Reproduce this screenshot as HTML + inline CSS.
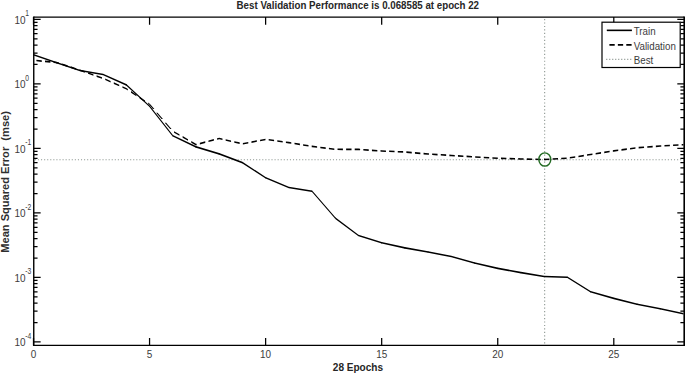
<!DOCTYPE html>
<html><head><meta charset="utf-8"><style>
html,body{margin:0;padding:0;background:#fff;}
svg{display:block;}
text{font-family:"Liberation Sans",sans-serif;white-space:pre;}
</style></head><body>
<svg width="685" height="374" viewBox="0 0 685 374">
<rect width="685" height="374" fill="#fff"/>
<g stroke="#8e9892" stroke-width="1.1" fill="none">
<path d="M544.65 18.94V345.40" stroke-dasharray="1.2 2.2767"/>
<path d="M34.87 159.80H683.40" stroke-dasharray="1.1 1.9726"/>
</g>
<path d="M33.50 54.00L56.71 62.00L56.71 63.60L33.50 55.60ZM56.71 62.00L79.92 69.70L79.92 71.30L56.71 63.60ZM79.92 69.70L103.14 73.70L103.14 75.30L79.92 71.30ZM103.14 73.70L126.35 84.10L126.35 85.70L103.14 75.30ZM126.35 84.10L149.56 105.40L149.56 107.00L126.35 85.70ZM150.27 106.20L173.48 135.80L172.06 135.80L148.85 106.20ZM172.77 135.00L195.98 146.10L195.98 147.70L172.77 136.60ZM195.98 146.10L219.20 153.10L219.20 154.70L195.98 147.70ZM219.20 153.10L242.41 161.80L242.41 163.40L219.20 154.70ZM242.41 161.80L265.62 176.90L265.62 178.50L242.41 163.40ZM265.62 176.90L288.83 186.70L288.83 188.30L265.62 178.50ZM288.83 186.70L312.04 190.40L312.04 192.00L288.83 188.30ZM312.75 191.20L335.96 218.10L334.55 218.10L311.34 191.20ZM335.26 217.30L358.47 234.70L358.47 236.30L335.26 218.90ZM358.47 234.70L381.68 242.00L381.68 243.60L358.47 236.30ZM381.68 242.00L404.89 247.10L404.89 248.70L381.68 243.60ZM404.89 247.10L428.10 251.20L428.10 252.80L404.89 248.70ZM428.10 251.20L451.32 255.70L451.32 257.30L428.10 252.80ZM451.32 255.70L474.53 262.20L474.53 263.80L451.32 257.30ZM474.53 262.20L497.74 267.60L497.74 269.20L474.53 263.80ZM497.74 267.60L520.95 271.80L520.95 273.40L497.74 269.20ZM520.95 271.80L544.16 275.70L544.16 277.30L520.95 273.40ZM544.16 275.70L567.38 276.50L567.38 278.10L544.16 277.30ZM567.38 276.50L590.59 290.90L590.59 292.50L567.38 278.10ZM590.59 290.90L613.80 297.60L613.80 299.20L590.59 292.50ZM613.80 297.60L637.01 303.40L637.01 305.00L613.80 299.20ZM637.01 303.40L660.22 308.00L660.22 309.60L637.01 305.00ZM660.22 308.00L683.44 313.00L683.44 314.60L660.22 309.60Z" fill="#000"/>
<path d="M56.11 62.80a0.6 0.6 0 1 1 1.2 0a0.6 0.6 0 1 1 -1.2 0M79.32 70.50a0.6 0.6 0 1 1 1.2 0a0.6 0.6 0 1 1 -1.2 0M102.54 74.50a0.6 0.6 0 1 1 1.2 0a0.6 0.6 0 1 1 -1.2 0M125.75 84.90a0.6 0.6 0 1 1 1.2 0a0.6 0.6 0 1 1 -1.2 0M148.96 106.20a0.6 0.6 0 1 1 1.2 0a0.6 0.6 0 1 1 -1.2 0M172.17 135.80a0.6 0.6 0 1 1 1.2 0a0.6 0.6 0 1 1 -1.2 0M195.38 146.90a0.6 0.6 0 1 1 1.2 0a0.6 0.6 0 1 1 -1.2 0M218.60 153.90a0.6 0.6 0 1 1 1.2 0a0.6 0.6 0 1 1 -1.2 0M241.81 162.60a0.6 0.6 0 1 1 1.2 0a0.6 0.6 0 1 1 -1.2 0M265.02 177.70a0.6 0.6 0 1 1 1.2 0a0.6 0.6 0 1 1 -1.2 0M288.23 187.50a0.6 0.6 0 1 1 1.2 0a0.6 0.6 0 1 1 -1.2 0M311.44 191.20a0.6 0.6 0 1 1 1.2 0a0.6 0.6 0 1 1 -1.2 0M334.66 218.10a0.6 0.6 0 1 1 1.2 0a0.6 0.6 0 1 1 -1.2 0M357.87 235.50a0.6 0.6 0 1 1 1.2 0a0.6 0.6 0 1 1 -1.2 0M381.08 242.80a0.6 0.6 0 1 1 1.2 0a0.6 0.6 0 1 1 -1.2 0M404.29 247.90a0.6 0.6 0 1 1 1.2 0a0.6 0.6 0 1 1 -1.2 0M427.50 252.00a0.6 0.6 0 1 1 1.2 0a0.6 0.6 0 1 1 -1.2 0M450.72 256.50a0.6 0.6 0 1 1 1.2 0a0.6 0.6 0 1 1 -1.2 0M473.93 263.00a0.6 0.6 0 1 1 1.2 0a0.6 0.6 0 1 1 -1.2 0M497.14 268.40a0.6 0.6 0 1 1 1.2 0a0.6 0.6 0 1 1 -1.2 0M520.35 272.60a0.6 0.6 0 1 1 1.2 0a0.6 0.6 0 1 1 -1.2 0M543.56 276.50a0.6 0.6 0 1 1 1.2 0a0.6 0.6 0 1 1 -1.2 0M566.78 277.30a0.6 0.6 0 1 1 1.2 0a0.6 0.6 0 1 1 -1.2 0M589.99 291.70a0.6 0.6 0 1 1 1.2 0a0.6 0.6 0 1 1 -1.2 0M613.20 298.40a0.6 0.6 0 1 1 1.2 0a0.6 0.6 0 1 1 -1.2 0M636.41 304.20a0.6 0.6 0 1 1 1.2 0a0.6 0.6 0 1 1 -1.2 0M659.62 308.80a0.6 0.6 0 1 1 1.2 0a0.6 0.6 0 1 1 -1.2 0" fill="#000"/>
<path d="M36.38 59.77L41.78 60.28L41.78 61.88L36.38 61.37ZM44.98 60.59L50.38 61.10L50.38 62.70L44.98 62.19ZM53.59 61.40L56.71 61.70L56.71 63.30L53.59 63.00ZM56.71 61.70L58.98 62.45L58.98 64.05L56.71 63.30ZM62.19 63.52L67.59 65.31L67.59 66.91L62.19 65.12ZM70.79 66.37L76.19 68.16L76.19 69.76L70.79 67.97ZM79.40 69.23L79.92 69.40L79.92 71.00L79.40 70.83ZM79.92 69.40L84.80 71.12L84.80 72.72L79.92 71.00ZM88.00 72.25L93.40 74.16L93.40 75.76L88.00 73.85ZM96.60 75.29L102.00 77.20L102.00 78.80L96.60 76.89ZM105.21 78.52L110.61 80.92L110.61 82.52L105.21 80.12ZM113.81 82.34L119.21 84.73L119.21 86.33L113.81 83.94ZM122.42 86.16L126.35 87.90L126.35 89.50L122.42 87.76ZM126.35 87.90L127.82 88.89L127.82 90.49L126.35 89.50ZM131.02 91.04L136.42 94.67L136.42 96.27L131.02 92.64ZM139.62 96.82L145.03 100.45L145.03 102.05L139.62 98.42ZM148.23 102.61L149.56 103.50L149.56 105.10L148.23 104.21ZM150.27 104.30L154.34 109.02L152.92 109.02L148.85 104.30ZM157.54 112.73L162.94 118.99L161.53 118.99L156.13 112.73ZM166.14 122.70L171.54 128.96L170.13 128.96L164.73 122.70ZM174.04 131.13L179.44 134.25L179.44 135.85L174.04 132.73ZM182.64 136.10L188.04 139.22L188.04 140.82L182.64 137.70ZM191.25 141.07L195.98 143.80L195.98 145.40L191.25 142.67ZM195.98 143.80L196.65 143.63L196.65 145.23L195.98 145.40ZM199.85 142.78L205.25 141.36L205.25 142.96L199.85 144.38ZM208.46 140.52L213.86 139.10L213.86 140.70L208.46 142.12ZM217.06 138.26L219.20 137.70L219.20 139.30L217.06 139.86ZM219.20 137.70L222.46 138.45L222.46 140.05L219.20 139.30ZM225.66 139.18L231.06 140.41L231.06 142.01L225.66 140.78ZM234.27 141.14L239.67 142.37L239.67 143.97L234.27 142.74ZM242.87 142.91L248.27 141.89L248.27 143.49L242.87 144.51ZM251.48 141.28L256.88 140.26L256.88 141.86L251.48 142.88ZM260.08 139.65L265.48 138.63L265.48 140.23L260.08 141.25ZM268.69 139.02L274.08 139.77L274.08 141.37L268.69 140.62ZM277.29 140.21L282.69 140.95L282.69 142.55L277.29 141.81ZM285.89 141.39L288.83 141.80L288.83 143.40L285.89 142.99ZM288.83 141.80L291.29 142.20L291.29 143.80L288.83 143.40ZM294.50 142.73L299.90 143.61L299.90 145.21L294.50 144.33ZM303.10 144.14L308.50 145.02L308.50 146.62L303.10 145.74ZM311.70 145.54L312.04 145.60L312.04 147.20L311.70 147.14ZM312.04 145.60L317.10 146.23L317.10 147.83L312.04 147.20ZM320.31 146.63L325.71 147.31L325.71 148.91L320.31 148.23ZM328.91 147.71L334.31 148.38L334.31 149.98L328.91 149.31ZM337.52 148.51L342.92 148.53L342.92 150.13L337.52 150.11ZM346.12 148.55L351.52 148.57L351.52 150.17L346.12 150.15ZM354.72 148.58L358.47 148.60L358.47 150.20L354.72 150.18ZM358.47 148.60L360.12 148.71L360.12 150.31L358.47 150.20ZM363.33 148.94L368.73 149.31L368.73 150.91L363.33 150.54ZM371.93 149.53L377.33 149.90L377.33 151.50L371.93 151.13ZM380.54 150.12L381.68 150.20L381.68 151.80L380.54 151.72ZM381.68 150.20L385.94 150.38L385.94 151.98L381.68 151.80ZM389.14 150.52L394.54 150.75L394.54 152.35L389.14 152.12ZM397.74 150.89L403.14 151.12L403.14 152.72L397.74 152.49ZM406.35 151.33L411.75 151.79L411.75 153.39L406.35 152.93ZM414.95 152.07L420.35 152.53L420.35 154.13L414.95 153.67ZM423.56 152.81L428.10 153.20L428.10 154.80L423.56 154.41ZM428.10 153.20L428.96 153.26L428.96 154.86L428.10 154.80ZM432.16 153.46L437.56 153.81L437.56 155.41L432.16 155.06ZM440.76 154.02L446.16 154.37L446.16 155.97L440.76 155.62ZM449.37 154.57L451.32 154.70L451.32 156.30L449.37 156.17ZM451.32 154.70L454.77 154.91L454.77 156.51L451.32 156.30ZM457.97 155.10L463.37 155.43L463.37 157.03L457.97 156.70ZM466.58 155.62L471.98 155.95L471.98 157.55L466.58 157.22ZM475.18 156.14L480.58 156.47L480.58 158.07L475.18 157.74ZM483.78 156.66L489.18 156.98L489.18 158.58L483.78 158.26ZM492.39 157.18L497.74 157.50L497.74 159.10L492.39 158.78ZM497.74 157.50L497.79 157.50L497.79 159.10L497.74 159.10ZM500.99 157.60L506.39 157.76L506.39 159.36L500.99 159.20ZM509.60 157.86L515.00 158.02L515.00 159.62L509.60 159.46ZM518.20 158.12L520.95 158.20L520.95 159.80L518.20 159.72ZM520.95 158.20L523.60 158.26L523.60 159.86L520.95 159.80ZM526.80 158.33L532.20 158.44L532.20 160.04L526.80 159.93ZM535.41 158.51L540.81 158.63L540.81 160.23L535.41 160.11ZM544.01 158.70L544.16 158.70L544.16 160.30L544.01 160.30ZM544.16 158.70L549.41 158.41L549.41 160.01L544.16 160.30ZM552.62 158.23L558.02 157.92L558.02 159.52L552.62 159.83ZM561.22 157.74L566.62 157.44L566.62 159.04L561.22 159.34ZM569.82 157.01L575.22 156.15L575.22 157.75L569.82 158.61ZM578.43 155.64L583.83 154.78L583.83 156.38L578.43 157.24ZM587.03 154.27L590.59 153.70L590.59 155.30L587.03 155.87ZM590.59 153.70L592.43 153.41L592.43 155.01L590.59 155.30ZM595.64 152.92L601.04 152.08L601.04 153.68L595.64 154.52ZM604.24 151.58L609.64 150.75L609.64 152.35L604.24 153.18ZM612.84 150.25L613.80 150.10L613.80 151.70L612.84 151.85ZM613.80 150.10L618.24 149.51L618.24 151.11L613.80 151.70ZM621.45 149.08L626.85 148.36L626.85 149.96L621.45 150.68ZM630.05 147.93L635.45 147.21L635.45 148.81L630.05 149.53ZM638.66 146.87L644.06 146.45L644.06 148.05L638.66 148.47ZM647.26 146.21L652.66 145.79L652.66 147.39L647.26 147.81ZM655.86 145.54L660.22 145.20L660.22 146.80L655.86 147.14ZM660.22 145.20L661.26 145.14L661.26 146.74L660.22 146.80ZM664.47 144.96L669.87 144.66L669.87 146.26L664.47 146.56ZM673.07 144.48L678.47 144.18L678.47 145.78L673.07 146.08ZM681.68 144.00L683.44 143.90L683.44 145.50L681.68 145.60Z" fill="#000"/>
<ellipse cx="544.8" cy="159.5" rx="5.95" ry="6.65" fill="none" stroke="#236b23" stroke-width="1.4"/>
<path d="M33.50 345.40V338.00M33.50 17.10V24.70M149.56 345.40V338.00M149.56 17.10V24.70M265.62 345.40V338.00M265.62 17.10V24.70M381.68 345.40V338.00M381.68 17.10V24.70M497.74 345.40V338.00M497.74 17.10V24.70M613.80 345.40V338.00M613.80 17.10V24.70M33.75 19.38H40.65M684.20 19.38H677.30M33.75 83.90H40.65M684.20 83.90H677.30M33.75 148.42H40.65M684.20 148.42H677.30M33.75 212.94H40.65M684.20 212.94H677.30M33.75 277.46H40.65M684.20 277.46H677.30M33.75 341.98H40.65M684.20 341.98H677.30M33.75 64.48H37.55M684.20 64.48H680.40M33.75 53.12H37.55M684.20 53.12H680.40M33.75 45.06H37.55M684.20 45.06H680.40M33.75 38.80H37.55M684.20 38.80H680.40M33.75 33.69H37.55M684.20 33.69H680.40M33.75 29.37H37.55M684.20 29.37H680.40M33.75 25.63H37.55M684.20 25.63H680.40M33.75 22.33H37.55M684.20 22.33H680.40M33.75 129.00H37.55M684.20 129.00H680.40M33.75 117.64H37.55M684.20 117.64H680.40M33.75 109.58H37.55M684.20 109.58H680.40M33.75 103.32H37.55M684.20 103.32H680.40M33.75 98.21H37.55M684.20 98.21H680.40M33.75 93.89H37.55M684.20 93.89H680.40M33.75 90.15H37.55M684.20 90.15H680.40M33.75 86.85H37.55M684.20 86.85H680.40M33.75 193.52H37.55M684.20 193.52H680.40M33.75 182.16H37.55M684.20 182.16H680.40M33.75 174.10H37.55M684.20 174.10H680.40M33.75 167.84H37.55M684.20 167.84H680.40M33.75 162.73H37.55M684.20 162.73H680.40M33.75 158.41H37.55M684.20 158.41H680.40M33.75 154.67H37.55M684.20 154.67H680.40M33.75 151.37H37.55M684.20 151.37H680.40M33.75 258.04H37.55M684.20 258.04H680.40M33.75 246.68H37.55M684.20 246.68H680.40M33.75 238.62H37.55M684.20 238.62H680.40M33.75 232.36H37.55M684.20 232.36H680.40M33.75 227.25H37.55M684.20 227.25H680.40M33.75 222.93H37.55M684.20 222.93H680.40M33.75 219.19H37.55M684.20 219.19H680.40M33.75 215.89H37.55M684.20 215.89H680.40M33.75 322.56H37.55M684.20 322.56H680.40M33.75 311.20H37.55M684.20 311.20H680.40M33.75 303.14H37.55M684.20 303.14H680.40M33.75 296.88H37.55M684.20 296.88H680.40M33.75 291.77H37.55M684.20 291.77H680.40M33.75 287.45H37.55M684.20 287.45H680.40M33.75 283.71H37.55M684.20 283.71H680.40M33.75 280.41H37.55M684.20 280.41H680.40" stroke="#000" stroke-width="1.25" fill="none"/>
<path d="M33.75 17.10H684.20M33.75 345.40H684.20" stroke="#000" stroke-width="1.4" fill="none"/>
<path d="M33.75 16.40V346.10" stroke="#000" stroke-width="1.4" fill="none"/>
<path d="M684.20 16.40V346.10" stroke="#000" stroke-width="1.6" fill="none"/>
<g fill="#3c3c3c">
<text transform="translate(33.50,357.90) scale(0.86,1)" font-size="11.6" text-anchor="middle">0</text><text transform="translate(149.56,357.90) scale(0.86,1)" font-size="11.6" text-anchor="middle">5</text><text transform="translate(265.62,357.90) scale(0.86,1)" font-size="11.6" text-anchor="middle">10</text><text transform="translate(381.68,357.90) scale(0.86,1)" font-size="11.6" text-anchor="middle">15</text><text transform="translate(497.74,357.90) scale(0.86,1)" font-size="11.6" text-anchor="middle">20</text><text transform="translate(613.80,357.90) scale(0.86,1)" font-size="11.6" text-anchor="middle">25</text>
<text transform="translate(25.60,23.58) scale(0.86,1)" font-size="11.6" text-anchor="end">10</text><text transform="translate(25.20,16.18) scale(0.8,1)" font-size="8.4" text-anchor="start">1</text><text transform="translate(25.60,88.10) scale(0.86,1)" font-size="11.6" text-anchor="end">10</text><text transform="translate(25.20,80.70) scale(0.8,1)" font-size="8.4" text-anchor="start">0</text><text transform="translate(25.60,152.62) scale(0.86,1)" font-size="11.6" text-anchor="end">10</text><text transform="translate(25.20,145.22) scale(0.8,1)" font-size="8.4" text-anchor="start">-1</text><text transform="translate(25.60,217.14) scale(0.86,1)" font-size="11.6" text-anchor="end">10</text><text transform="translate(25.20,209.74) scale(0.8,1)" font-size="8.4" text-anchor="start">-2</text><text transform="translate(25.60,281.66) scale(0.86,1)" font-size="11.6" text-anchor="end">10</text><text transform="translate(25.20,274.26) scale(0.8,1)" font-size="8.4" text-anchor="start">-3</text><text transform="translate(25.60,346.18) scale(0.86,1)" font-size="11.6" text-anchor="end">10</text><text transform="translate(25.20,338.78) scale(0.8,1)" font-size="8.4" text-anchor="start">-4</text>
</g>
<text x="236.6" y="9" font-size="11" font-weight="bold" fill="#262626" textLength="242.4" lengthAdjust="spacingAndGlyphs">Best Validation Performance is 0.068585 at epoch 22</text>
<text x="332.8" y="370.5" font-size="10.5" font-weight="bold" fill="#262626" textLength="50.3" lengthAdjust="spacingAndGlyphs">28 Epochs</text>
<text transform="translate(8.5,252.7) rotate(-90)" font-size="10.8" font-weight="bold" fill="#2e2e2e" textLength="141.6" lengthAdjust="spacingAndGlyphs">Mean Squared Error  (mse)</text>
<g>
<rect x="602" y="22.2" width="78.2" height="45.3" fill="#fff" stroke="#000" stroke-width="1.2"/>
<path d="M606.8 30.35H631.9" stroke="#000" stroke-width="1.6"/>
<path d="M609.4 44.9H631.9" stroke="#000" stroke-width="1.6" stroke-dasharray="5.3 3.15"/>
<path d="M606.2 59.4H632" stroke="#8e9892" stroke-width="1.1" stroke-dasharray="1.1 1.9"/>
<g fill="#3c3c3c">
<text transform="translate(633.70,35.10) scale(0.93,1)" font-size="10.5" text-anchor="start">Train</text>
<text transform="translate(633.70,49.50) scale(0.93,1)" font-size="10.5" text-anchor="start">Validation</text>
<text transform="translate(633.70,63.60) scale(0.93,1)" font-size="10.5" text-anchor="start">Best</text>
</g>
</g>
</svg>
</body></html>
